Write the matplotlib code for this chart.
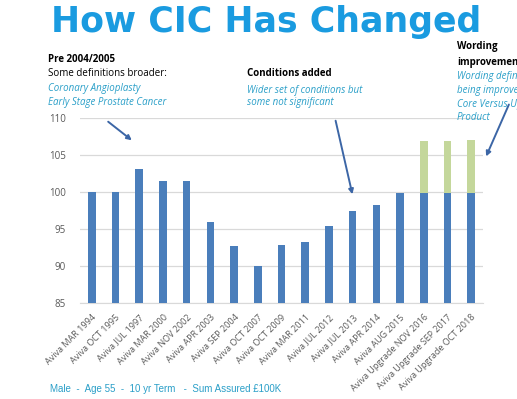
#!/usr/bin/env python3
"""How CIC Has Changed - Aviva CIC quality scores over time"""

import matplotlib
matplotlib.use("Agg")
import matplotlib.pyplot as plt

labels = [
    "Aviva MAR 1994", "Aviva OCT 1995", "Aviva JUL 1997", "Aviva MAR 2000",
    "Aviva NOV 2002", "Aviva APR 2003", "Aviva SEP 2004", "Aviva OCT 2007",
    "Aviva OCT 2009", "Aviva MAR 2011", "Aviva JUL 2012", "Aviva JUL 2013",
    "Aviva APR 2014", "Aviva AUG 2015", "Aviva Upgrade NOV 2016",
    "Aviva Upgrade SEP 2017", "Aviva Upgrade OCT 2018",
]
core = [100, 100, 103.1, 101.5, 101.5, 95.9, 92.7, 90.0, 92.9, 93.2,
        95.4, 97.4, 98.2, 99.8, 99.8, 99.8, 99.8]
upgrade = [0, 0, 0, 0, 0, 0, 0, 0, 0, 0, 0, 0, 0, 0, 7.1, 7.1, 7.2]

BLUE = "#4a7ebb"
GREEN = "#c4d79b"
TEAL = "#2a9fc8"
ARROW = "#3c66a6"
GREY = "#595959"

W, H = 517, 399
fig = plt.figure(figsize=(W / 100, H / 100), dpi=100)
ax = fig.add_axes([80 / W, 1 - 303 / H, 403 / W, 185 / H])

x = list(range(len(labels)))
ax.bar(x, core, width=0.32, color=BLUE, zorder=3)
ax.bar(x, upgrade, width=0.32, bottom=core, color=GREEN, zorder=3)

ax.set_ylim(85, 110)
ax.set_xlim(-0.5, 16.5)
ax.set_yticks([85, 90, 95, 100, 105, 110])
ax.set_xticks(x)
ax.set_xticklabels(labels, rotation=45, ha="right", rotation_mode="anchor",
                   fontsize=6.5, color=GREY, family="Open Sans")
ax.tick_params(axis="y", labelsize=7, colors=GREY, length=0, pad=10)
ax.tick_params(axis="x", length=0, pad=7)
ax.grid(axis="y", color="#d9d9d9", linewidth=0.9, zorder=0)
for s in ["top", "right", "left"]:
    ax.spines[s].set_visible(False)
ax.spines["bottom"].set_color("#d9d9d9")
for t in ax.get_yticklabels():
    t.set_family("Open Sans")

# title
fig.text(266 / W, 1 - 22 / H, "How CIC Has Changed", ha="center", va="center",
         fontsize=25, fontweight="bold", color="#1a9be0", family="DejaVu Sans")


def ftext(px, py, s, **kw):
    fig.text(px / W, 1 - py / H, s, va="center", family="Open Sans", **kw)


ftext(48, 60, "Pre 2004/2005", fontsize=7, fontweight="bold", color="black")
ftext(48, 73, "Some definitions broader:", fontsize=7, color="black")
ftext(48, 88, "Coronary Angioplasty", fontsize=7, style="italic", color=TEAL)
ftext(48, 103, "Early Stage Prostate Cancer", fontsize=7, style="italic", color=TEAL)

ftext(247, 74, "Conditions added", fontsize=7, fontweight="bold", color="black")
ftext(247, 90, "Wider set of conditions but", fontsize=7, style="italic", color=TEAL)
ftext(247, 103, "some not significant", fontsize=7, style="italic", color=TEAL)

# right-hand note runs off the slide edge, as in the original
ftext(457, 46, "Wording", fontsize=7, fontweight="bold", color="black")
ftext(457, 62, "improvement", fontsize=7, fontweight="bold", color="black")
ftext(457, 77, "Wording definitions", fontsize=7, style="italic", color=TEAL)
ftext(457, 90, "being improved", fontsize=7, style="italic", color=TEAL)
ftext(457, 105, "Core Versus Upgrade", fontsize=7, style="italic", color=TEAL)
ftext(457, 118, "Product", fontsize=7, style="italic", color=TEAL)

# arrows
for (x0, y0), (x1, y1) in [((106, 120), (134, 142)),
                           ((335, 118), (353, 197)),
                           ((510, 102), (485, 159))]:
    fig.add_artist(matplotlib.patches.FancyArrowPatch(
        (x0 / W, 1 - y0 / H), (x1 / W, 1 - y1 / H), transform=fig.transFigure,
        arrowstyle="-|>", mutation_scale=7, color=ARROW, linewidth=1.4))

fig.text(50 / W, 1 - 389 / H, "Male  -  Age 55  -  10 yr Term   -  Sum Assured £100K",
         va="center", fontsize=7, color=TEAL, family="Liberation Sans")

fig.savefig("out.png", dpi=100)
